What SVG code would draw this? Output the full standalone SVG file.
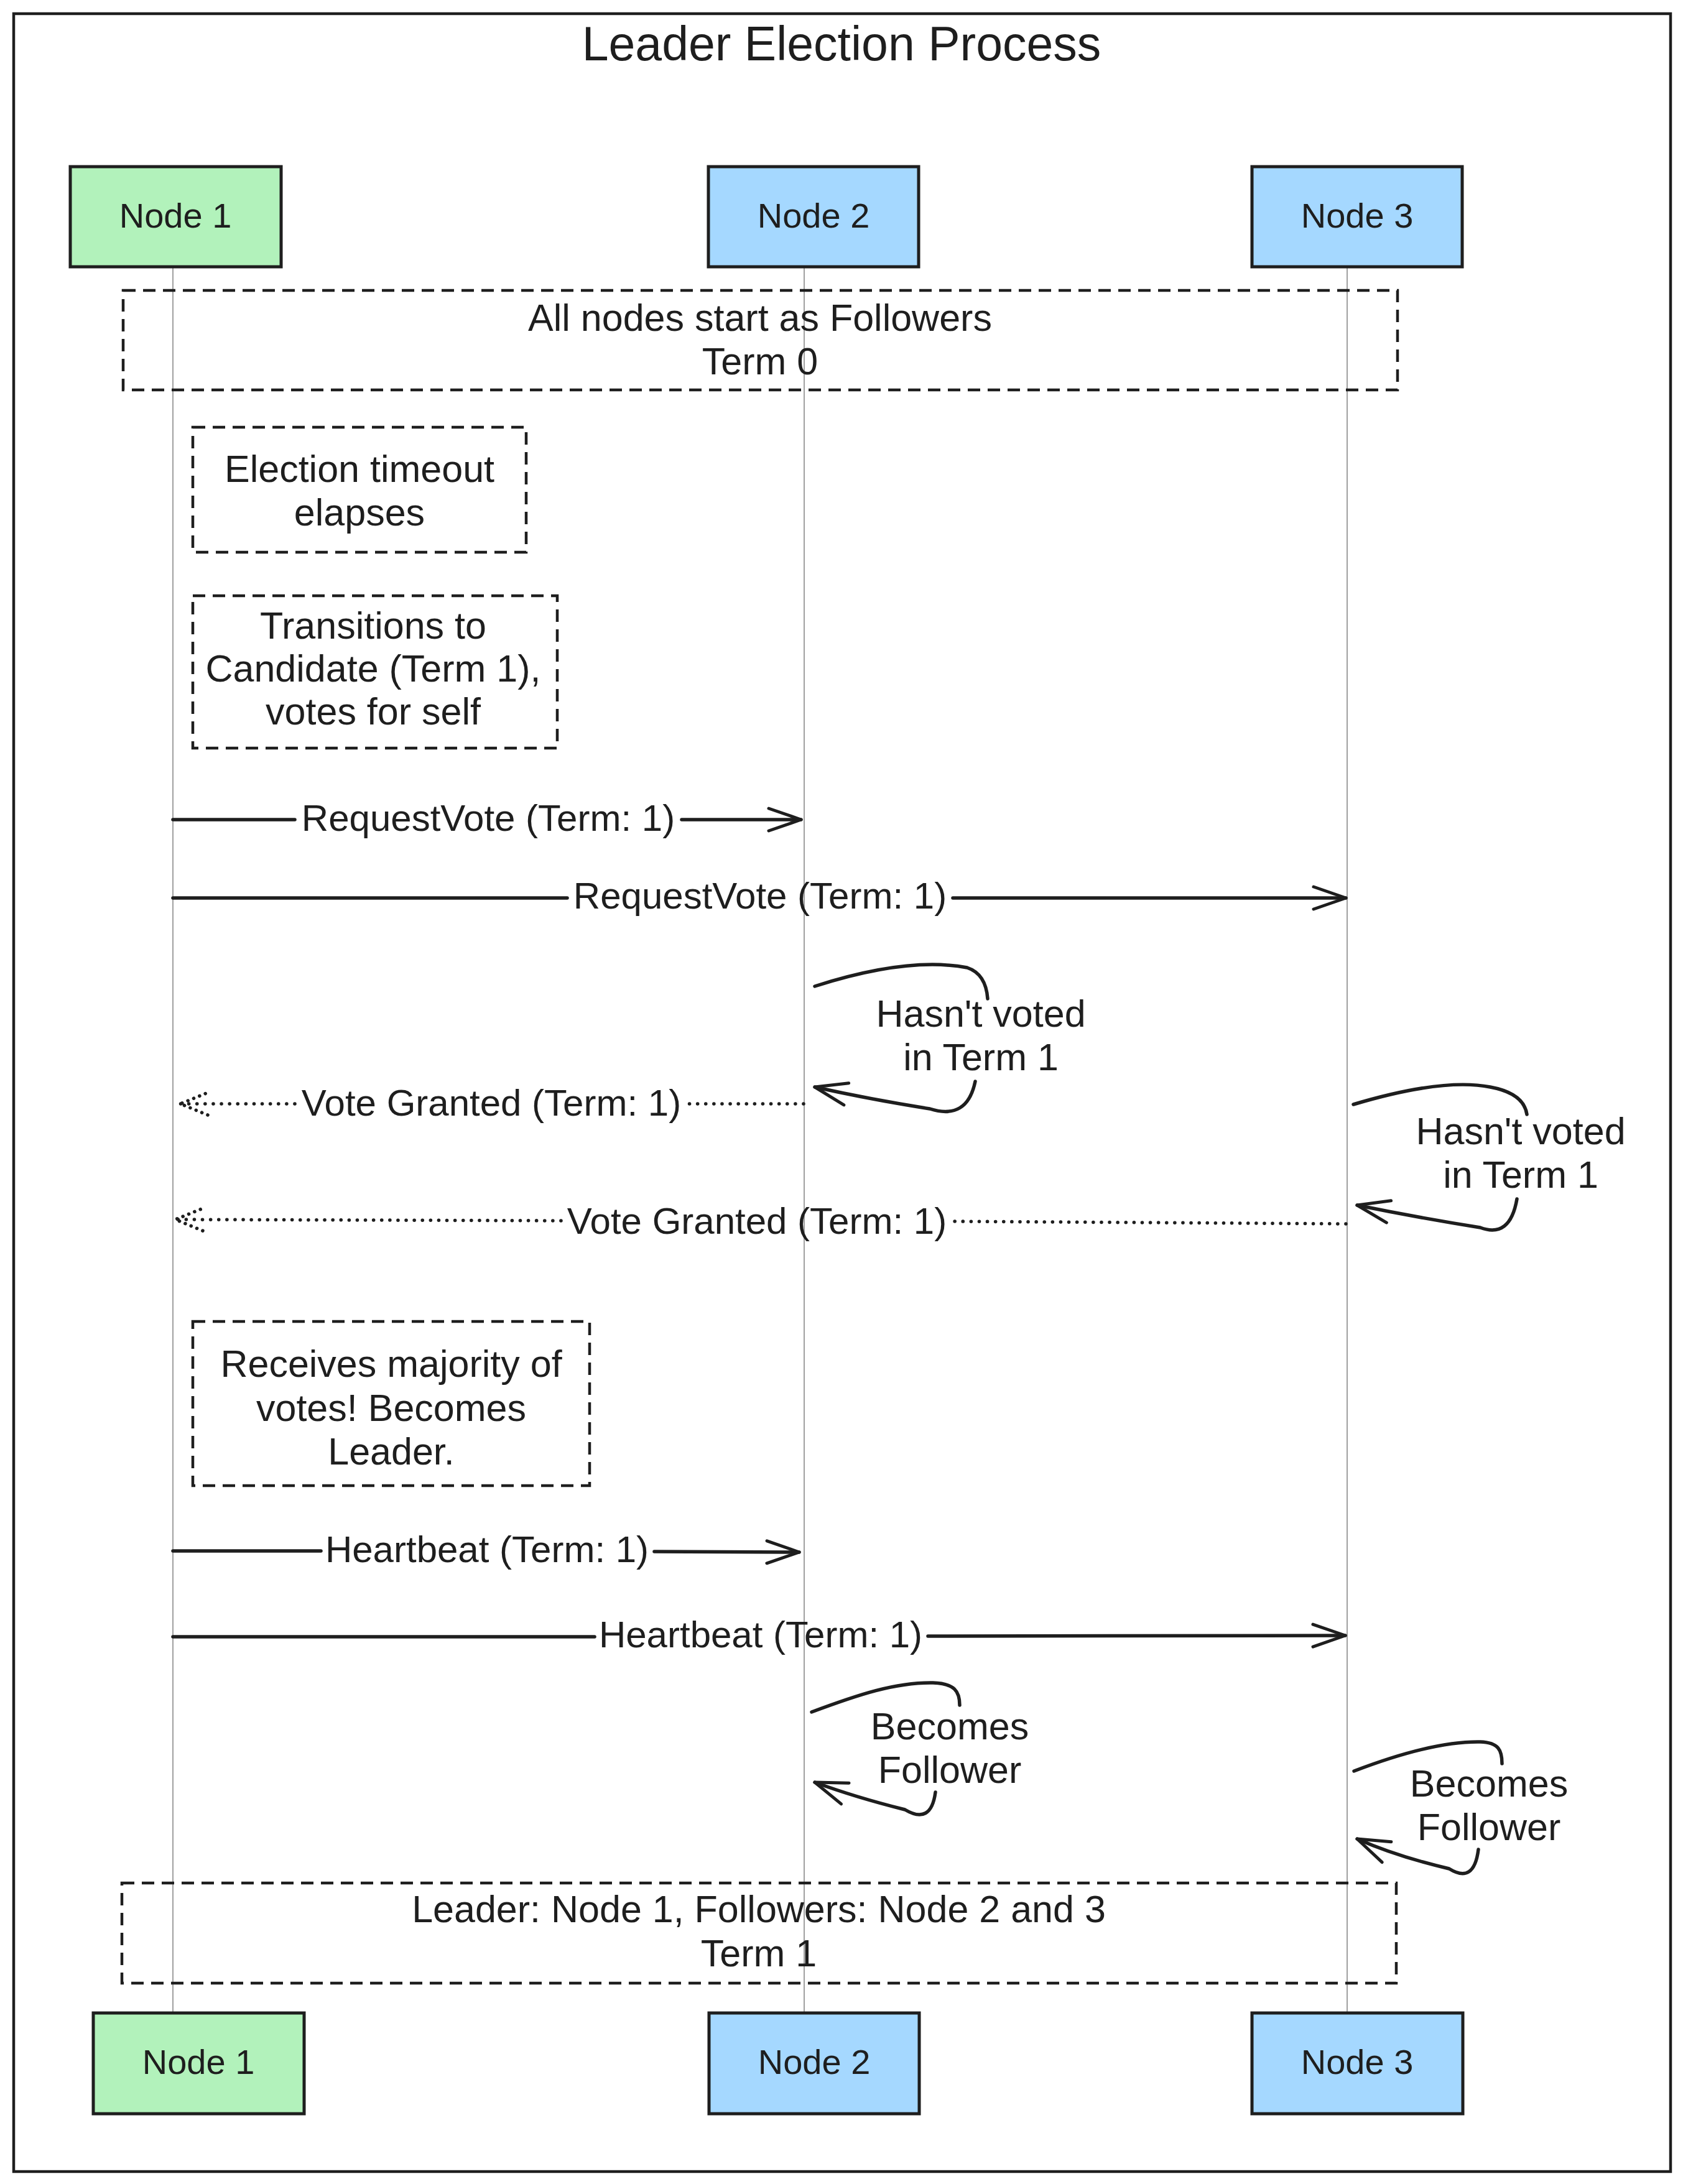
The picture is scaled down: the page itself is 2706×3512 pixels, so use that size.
<svg xmlns="http://www.w3.org/2000/svg" width="2706" height="3512" viewBox="0 0 2706 3512">
<style>
.bg{fill:#ffffff}
.frame{fill:none;stroke:#1e1e1e;stroke-width:4.5}
.n1{fill:#b2f2bb;stroke:#1e1e1e;stroke-width:5}
.n2{fill:#a5d8ff;stroke:#1e1e1e;stroke-width:5}
.life{fill:none;stroke:#a0a0a0;stroke-width:2}
.note{fill:none;stroke:#1e1e1e;stroke-width:4.5;stroke-dasharray:20 12}
.msg{fill:none;stroke:#1e1e1e;stroke-width:5.5;stroke-linecap:round}
.dot{fill:none;stroke:#1e1e1e;stroke-width:5.5;stroke-linecap:round;stroke-dasharray:0.1 13}
.loop{fill:none;stroke:#1e1e1e;stroke-width:5.5;stroke-linecap:round}
text{font-family:"Liberation Sans",Arial,sans-serif;fill:#1e1e1e;text-anchor:middle;dominant-baseline:central}
.title{font-size:77px}
.nl{font-size:56px}
.nt{font-size:61px}
.ml{font-size:60px}
</style>
<defs>
<marker id="ah" markerUnits="userSpaceOnUse" markerWidth="80" markerHeight="60" viewBox="-70 -30 80 60" refX="0" refY="0" orient="auto" overflow="visible">
<path d="M-52,-18 L0,0 L-52,18" fill="none" stroke="#1e1e1e" stroke-width="5" stroke-linecap="round" stroke-linejoin="round"/>
</marker>
<marker id="ahd" markerUnits="userSpaceOnUse" markerWidth="80" markerHeight="60" viewBox="-70 -30 80 60" refX="0" refY="0" orient="auto" overflow="visible">
<path d="M-44,-18 L0,0 L-44,18" fill="none" stroke="#1e1e1e" stroke-width="5.5" stroke-linecap="round" stroke-dasharray="0.1 10"/>
</marker>
</defs>
<rect class="bg" x="0" y="0" width="2706" height="3512"/>
<rect id="frame" class="frame" x="22" y="22" width="2664" height="3470"/>
<text class="title" x="1353" y="70">Leader Election Process</text>

<g id="lifelines">
<line class="life" x1="278" y1="429" x2="278" y2="3237"/>
<line class="life" x1="1293" y1="429" x2="1293" y2="3237"/>
<line class="life" x1="2166" y1="429" x2="2166" y2="3237"/>
</g>

<g id="node1-top"><rect class="n1" x="113" y="268" width="339" height="161"/><text class="nl" x="282" y="346">Node 1</text></g>
<g id="node2-top"><rect class="n2" x="1139" y="268" width="338" height="161"/><text class="nl" x="1308" y="346">Node 2</text></g>
<g id="node3-top"><rect class="n2" x="2013" y="268" width="338" height="161"/><text class="nl" x="2182" y="346">Node 3</text></g>

<g id="node1-bottom"><rect class="n1" x="150" y="3237" width="339" height="162"/><text class="nl" x="319" y="3315">Node 1</text></g>
<g id="node2-bottom"><rect class="n2" x="1140" y="3237" width="338" height="162"/><text class="nl" x="1309" y="3315">Node 2</text></g>
<g id="node3-bottom"><rect class="n2" x="2013" y="3237" width="339" height="162"/><text class="nl" x="2182" y="3315">Node 3</text></g>

<g id="note-start"><rect class="note" x="198" y="467" width="2049" height="160"/>
<text class="nt" x="1222" y="511">All nodes start as Followers</text>
<text class="nt" x="1222" y="581">Term 0</text></g>

<g id="note-timeout"><rect class="note" x="310" y="687" width="536" height="201"/>
<text class="nt" x="578" y="754">Election timeout</text>
<text class="nt" x="578" y="824">elapses</text></g>

<g id="note-candidate"><rect class="note" x="310" y="958" width="586" height="245"/>
<text class="nt" x="600" y="1006">Transitions to</text>
<text class="nt" x="600" y="1075">Candidate (Term 1),</text>
<text class="nt" x="600" y="1144">votes for self</text></g>

<g id="note-leader"><rect class="note" x="310" y="2125" width="638" height="264"/>
<text class="nt" x="629" y="2193">Receives majority of</text>
<text class="nt" x="629" y="2264">votes! Becomes</text>
<text class="nt" x="629" y="2334">Leader.</text></g>

<g id="note-end"><rect class="note" x="196" y="3028" width="2049" height="161"/>
<text class="nt" x="1220" y="3070">Leader: Node 1, Followers: Node 2 and 3</text>
<text class="nt" x="1220" y="3141">Term 1</text></g>

<g id="connectors">
<line class="msg" x1="278" y1="1318" x2="474" y2="1318"/>
<line class="msg" x1="1096" y1="1318" x2="1288" y2="1318" marker-end="url(#ah)"/>
<text class="ml" x="785" y="1315">RequestVote (Term: 1)</text>
<line class="msg" x1="278" y1="1444" x2="912" y2="1444"/>
<line class="msg" x1="1532" y1="1444" x2="2164" y2="1444" marker-end="url(#ah)"/>
<text class="ml" x="1222" y="1440">RequestVote (Term: 1)</text>
<path class="loop" d="M1310,1586 Q1460,1538 1555,1556 Q1585,1566 1588,1606"/>
<path class="loop" d="M1568,1739 Q1555,1802 1495,1783 Q1400,1768 1310,1748" marker-end="url(#ah)"/>
<text class="nt" x="1577" y="1630">Hasn't voted</text>
<text class="nt" x="1577" y="1700">in Term 1</text>
<line class="dot" x1="1292" y1="1775" x2="1104" y2="1775"/>
<line class="dot" x1="474" y1="1775" x2="290" y2="1775" marker-end="url(#ahd)"/>
<text class="ml" x="790" y="1773">Vote Granted (Term: 1)</text>
<path class="loop" d="M2176,1776 Q2320,1733 2396,1748 Q2450,1758 2455,1792"/>
<path class="loop" d="M2439,1928 Q2428,1992 2380,1974 Q2280,1958 2182,1938" marker-end="url(#ah)"/>
<text class="nt" x="2445" y="1819">Hasn't voted</text>
<text class="nt" x="2445" y="1889">in Term 1</text>
<line class="dot" x1="2164" y1="1968" x2="1530" y2="1964"/>
<line class="dot" x1="902" y1="1963" x2="282" y2="1961" marker-end="url(#ahd)"/>
<text class="ml" x="1217" y="1963">Vote Granted (Term: 1)</text>
<line class="msg" x1="278" y1="2494" x2="516" y2="2494"/>
<line class="msg" x1="1052" y1="2495" x2="1285" y2="2496" marker-end="url(#ah)"/>
<text class="ml" x="783" y="2491">Heartbeat (Term: 1)</text>
<line class="msg" x1="278" y1="2632" x2="956" y2="2632"/>
<line class="msg" x1="1492" y1="2631" x2="2163" y2="2630" marker-end="url(#ah)"/>
<text class="ml" x="1223" y="2628">Heartbeat (Term: 1)</text>
<path class="loop" d="M1305,2753 C1380,2725 1440,2705 1500,2706 C1535,2707 1543,2720 1543,2742"/>
<path class="loop" d="M1504,2882 Q1497,2935 1455,2910 Q1375,2890 1310,2866" marker-end="url(#ah)"/>
<text class="nt" x="1527" y="2776">Becomes</text>
<text class="nt" x="1527" y="2846">Follower</text>
<path class="loop" d="M2177,2848 C2250,2820 2320,2800 2380,2801 C2410,2802 2415,2815 2415,2836"/>
<path class="loop" d="M2377,2974 Q2370,3030 2330,3005 Q2245,2985 2182,2957" marker-end="url(#ah)"/>
<text class="nt" x="2394" y="2868">Becomes</text>
<text class="nt" x="2394" y="2938">Follower</text>
</g>
</svg>
